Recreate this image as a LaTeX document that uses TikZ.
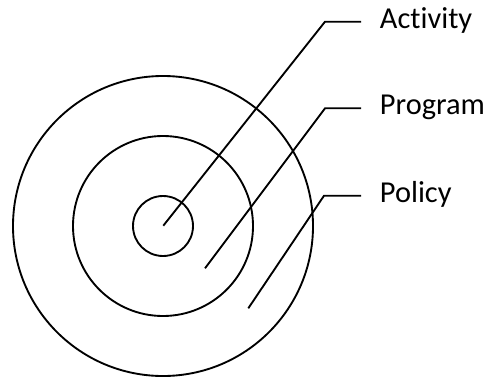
\documentclass[tikz,border=0pt]{standalone}
\usepackage{fontspec}
\setmainfont{Carlito}[Ligatures=NoCommon]
\tikzset{
    ring/.style={line width=1.4pt},
    leader/.style={line width=1.4pt},
    lab/.style={
        font=\fontsize{22.8}{27}\selectfont,
        anchor=base west, inner xsep=14pt, inner ysep=0pt
    }
}
\begin{document}
\begin{tikzpicture}[x=0.75pt,y=-0.75pt]
    \useasboundingbox (0,0) rectangle (491,378);

% --- geometry (pixel units of the reference) ---
    \def\RO{150}                 % outer ring
    \def\RM{90}                  % middle ring
    \def\RI{30}                  % inner ring
    \coordinate (C) at (163,226);    % common centre

% rings
    \draw[ring] (C) circle (\RO);
    \draw[ring] (C) circle (\RM);
    \draw[ring] (C) circle (\RI);

% labels
    \node[lab] (act) at (361,28.3) {Activity};
    \node[lab] (prog) at (361,114) {Program};
    \node[lab] (pol) at (361,202.7) {Policy};

% leader start points and bends
    \coordinate (actS) at (163.3,225.7);
    \coordinate (actK) at (325,21.7);
    \coordinate (progS) at (205,268.3);
    \coordinate (progK) at (325,108.3);
    \coordinate (polS) at (248.3,308.3);
    \coordinate (polK) at (324,195.7);

% leaders
    \draw[leader] (actS) -- (actK) -- (actK -| act.west);
    \draw[leader] (progS) -- (progK) -- (progK -| prog.west);
    \draw[leader] (polS) -- (polK) -- (polK -| pol.west);

  \end{tikzpicture}
\end{document}
